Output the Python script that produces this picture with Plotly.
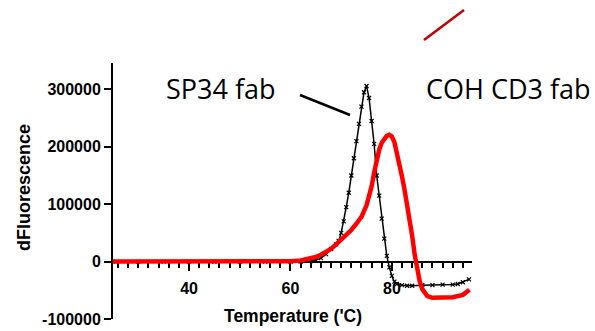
import plotly.graph_objects as go

# ---- data ----
temp_sp34 = [25, 30, 35, 40, 45, 50, 55, 60, 62, 64, 65, 66, 67, 68, 69, 69.5, 70, 70.5, 71,
             71.5, 72, 72.5, 73, 73.5, 74, 74.5, 75, 75.5, 76, 76.5, 77, 77.5, 78, 78.5, 79,
             79.5, 80, 80.5, 81, 82, 83, 84, 86, 88, 90, 92, 93, 94, 95.2]
dfl_sp34 = [0, 0, 0, 0, 0, 0, 0, 0, 0, 1000, 3000, 6000, 13000, 22000, 30000, 36000, 50000,
            70000, 95000, 120000, 150000, 180000, 210000, 240000, 270000, 295000, 306000,
            285000, 245000, 205000, 150000, 115000, 75000, 40000, 10000, -10000, -25000,
            -35000, -39000, -41000, -42000, -42000, -41000, -41000, -40000, -40000, -39000,
            -36000, -31000]

temp_coh = [25, 30, 35, 40, 45, 50, 55, 58, 60, 62, 64, 65, 66, 67, 68, 69, 70, 71, 72, 73,
            74, 75, 75.5, 76, 76.5, 77, 77.5, 78, 78.5, 79, 79.5, 80, 80.5, 81, 81.5, 82, 82.5,
            83, 83.5, 84, 84.5, 85, 85.5, 86, 86.5, 87, 88, 89, 90, 92, 94, 95.3]
dfl_coh = [0, 0, 0, 0, 0, 0, 0, 0, 500, 2000, 5000, 8000, 12000, 17000, 22000, 30000, 38000,
           46000, 55000, 66000, 78000, 98000, 112000, 131000, 155000, 178000, 195000, 207000,
           214000, 219000, 221000, 218000, 208000, 190000, 170000, 148000, 125000, 100000,
           75000, 45000, 12000, -15000, -35000, -48000, -56000, -60000, -63000, -63000,
           -63000, -62000, -58000, -49000]

y_ticks = [-100000, 0, 100000, 200000, 300000]
y_ticktext = ["-100000", "0", "100000", "200000", "300000"]
x_ticks = [40, 60, 80]
x_ticktext = ["40", "60", "80"]

W, H = 595, 331


def px(x):
    return x / W


def py(y):
    return 1 - y / H


fig = go.Figure()
fig.add_trace(go.Scatter(x=temp_sp34, y=dfl_sp34, mode="lines+markers",
                         line=dict(color="black", width=1.5),
                         marker=dict(symbol="x-thin", size=4, line=dict(color="black", width=1.2)),
                         showlegend=False))
fig.add_trace(go.Scatter(x=temp_coh, y=dfl_coh, mode="lines",
                         line=dict(color="#ff0000", width=4.5),
                         showlegend=False))

tickfont = dict(family="Liberation Sans", size=16, color="black", weight="bold")

fig.update_layout(
    template="none",
    width=W, height=H,
    margin=dict(l=0, r=0, t=0, b=0, pad=0),
    paper_bgcolor="white", plot_bgcolor="white",
    xaxis=dict(domain=[px(113), px(472)], range=[25, 95.8],
               anchor="free", position=py(262), automargin=False,
               showline=True, linecolor="black", linewidth=2,
               showgrid=False, zeroline=False,
               tickmode="array", tickvals=x_ticks, ticktext=x_ticktext,
               ticks="outside", ticklen=8, tickwidth=2, tickcolor="black",
               ticklabelstandoff=4,
               minor=dict(dtick=2, tick0=0, ticks="outside", ticklen=5, tickwidth=1.5,
                          tickcolor="black", showgrid=False),
               tickfont=tickfont, layer="below traces"),
    yaxis=dict(domain=[py(319), py(63)], range=[-100000, 346000],
               anchor="x", automargin=False,
               showline=True, linecolor="black", linewidth=2,
               showgrid=False, zeroline=False,
               tickmode="array", tickvals=y_ticks, ticktext=y_ticktext,
               ticks="outside", ticklen=7, tickwidth=2, tickcolor="black",
               tickfont=tickfont, layer="below traces"),
)

annos = [
    dict(text="dFluorescence", x=px(24), y=py(188), textangle=-90,
         font=dict(family="Liberation Sans", size=18, color="black", weight="bold")),
    dict(text="Temperature ('C)", x=px(293), y=py(316),
         font=dict(family="Liberation Sans", size=17.5, color="black", weight="bold")),
    dict(text="SP34 fab", x=px(164), y=py(88), xanchor="left",
         font=dict(family="Open Sans", size=27, color="black")),
    dict(text="COH CD3 fab", x=px(424), y=py(88), xanchor="left",
         font=dict(family="Open Sans", size=27, color="black")),
]
for a in annos:
    a.setdefault("xanchor", "center")
    fig.add_annotation(xref="paper", yref="paper", showarrow=False, yanchor="middle", **a)

fig.add_shape(type="line", xref="paper", yref="paper",
              x0=px(300), y0=py(95), x1=px(350), y1=py(115),
              line=dict(color="black", width=2.5))
fig.add_shape(type="line", xref="paper", yref="paper",
              x0=px(424), y0=py(40), x1=px(464), y1=py(10),
              line=dict(color="#c00000", width=2.5))

fig.write_html("out.html")
